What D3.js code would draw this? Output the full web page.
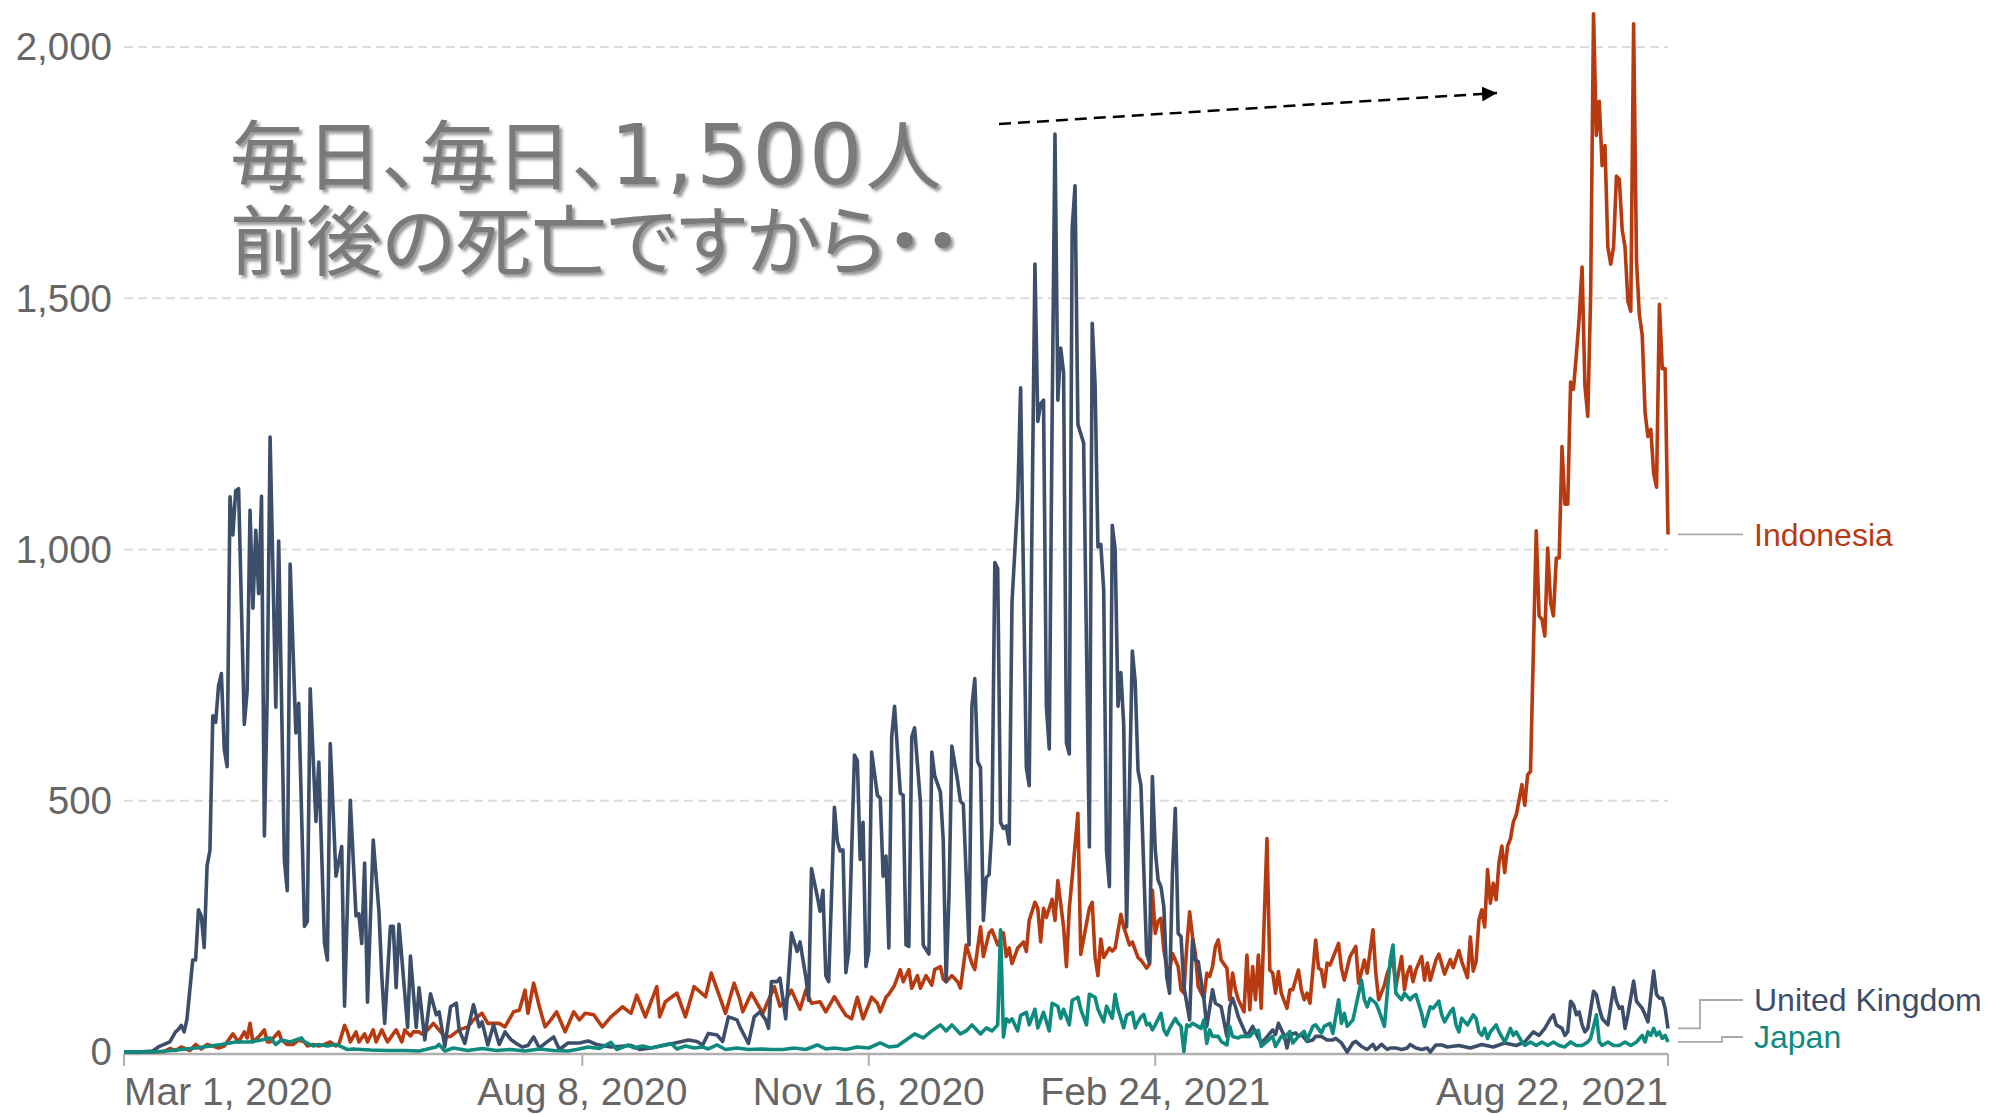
<!DOCTYPE html>
<html>
<head>
<meta charset="utf-8">
<script src="https://cdn.jsdelivr.net/npm/d3@7"></script>
<style>
  body { margin: 0; background: #ffffff; }
  svg text { font-family: "Liberation Sans", Arial, sans-serif; }
</style>
</head>
<body>
<div id="chart"></div>
<script>
// Daily deaths, as [days since Mar 1, 2020, deaths]
const ukDeaths = [[0,0],[5,0],[10,2],[12,10],[14,15],[16,20],[18,40],[19,45],[20,53],[21,40],[22,66],[24,183],[25,183],[26,283],[27,270],[28,208],[29,371],[30,401],[31,669],[32,656],[33,728],[34,753],[35,602],[36,568],[37,1105],[38,1029],[39,1117],[40,1121],[42,652],[43,719],[44,1078],[45,883],[46,1038],[47,912],[48,1106],[49,430],[50,711],[51,1224],[53,686],[54,1017],[56,380],[57,321],[58,971],[60,635],[61,694],[63,250],[64,260],[65,723],[67,459],[68,577],[70,216],[71,183],[72,614],[74,350],[76,409],[77,91],[79,501],[81,271],[82,275],[83,216],[84,376],[85,99],[87,422],[89,280],[90,150],[91,57],[93,250],[94,250],[95,128],[96,254],[99,49],[100,191],[102,49],[103,128],[105,24],[107,116],[109,74],[110,80],[112,11],[114,90],[116,97],[117,44],[119,17],[122,94],[124,50],[125,60],[127,14],[129,54],[131,15],[133,40],[135,25],[137,17],[139,10],[141,13],[143,30],[145,8],[147,17],[150,30],[152,5],[155,18],[159,18],[162,22],[165,15],[170,10],[177,13],[180,5],[184,8],[190,15],[194,20],[197,24],[200,21],[202,14],[204,37],[207,34],[209,21],[211,70],[214,64],[215,50],[218,17],[220,70],[222,80],[224,64],[225,47],[226,140],[228,140],[229,147],[231,66],[233,237],[235,200],[236,219],[238,150],[239,103],[240,365],[242,310],[243,280],[244,322],[245,152],[246,140],[248,487],[249,420],[250,400],[251,402],[252,158],[253,200],[255,591],[256,580],[257,383],[258,457],[259,170],[260,200],[261,597],[263,511],[264,505],[265,350],[266,390],[267,207],[268,627],[269,688],[271,515],[272,511],[273,213],[274,210],[275,627],[276,645],[278,499],[279,213],[281,195],[282,597],[283,550],[285,517],[286,420],[287,140],[288,310],[289,609],[291,540],[292,499],[293,493],[295,213],[296,688],[297,743],[298,578],[299,566],[300,262],[301,347],[302,353],[303,450],[304,974],[305,962],[306,457],[307,445],[308,450],[309,414],[310,895],[312,1102],[313,1322],[315,566],[316,530],[317,1066],[318,1568],[319,1255],[320,1290],[321,1297],[322,688],[323,603],[324,1261],[325,1827],[326,1297],[327,1401],[328,1352],[329,615],[330,593],[331,1639],[332,1724],[333,1249],[335,1212],[337,408],[338,1450],[339,1328],[340,1005],[341,1010],[342,920],[343,400],[344,329],[345,1048],[346,1000],[347,688],[348,755],[349,650],[350,249],[352,798],[353,737],[354,560],[355,531],[357,196],[358,177],[359,548],[360,402],[361,342],[362,329],[363,289],[364,150],[365,117],[366,356],[367,485],[368,236],[369,230],[370,130],[372,64],[373,223],[374,183],[375,180],[377,104],[378,51],[380,124],[381,97],[383,90],[385,31],[386,90],[387,107],[388,90],[389,70],[390,57],[392,31],[394,51],[396,28],[397,18],[399,30],[401,44],[402,35],[403,57],[405,33],[406,8],[407,35],[409,38],[410,31],[411,35],[413,21],[415,24],[416,31],[418,31],[420,24],[422,24],[423,27],[425,18],[427,0],[429,18],[430,21],[432,11],[434,5],[436,15],[437,5],[439,15],[441,5],[442,8],[444,8],[446,5],[448,8],[449,15],[451,8],[453,5],[455,8],[456,0],[458,14],[460,14],[462,10],[466,13],[470,8],[474,15],[478,10],[482,18],[486,13],[489,20],[492,40],[494,33],[496,47],[498,67],[499,74],[500,54],[502,47],[503,33],[504,40],[505,101],[506,94],[507,74],[508,80],[509,54],[510,40],[511,47],[513,121],[514,114],[515,87],[516,67],[517,60],[518,54],[520,128],[521,101],[522,87],[523,90],[524,47],[525,74],[527,141],[528,101],[529,94],[530,87],[531,74],[532,60],[534,161],[535,114],[536,107],[537,107],[538,87],[539,47]];

const indonesiaDeaths = [[0,0],[10,0],[14,1],[16,7],[18,3],[20,10],[23,3],[25,15],[27,6],[29,15],[31,12],[33,8],[35,12],[38,36],[40,20],[42,40],[43,28],[44,57],[45,20],[47,30],[49,44],[50,20],[51,20],[54,40],[55,24],[57,15],[59,15],[61,24],[63,20],[64,12],[66,15],[68,12],[70,15],[72,20],[74,12],[75,15],[77,53],[78,40],[79,20],[81,40],[82,20],[84,36],[85,20],[87,44],[88,20],[90,44],[92,20],[94,36],[95,44],[97,20],[98,44],[100,32],[101,40],[103,40],[104,36],[106,44],[108,57],[110,44],[112,30],[114,31],[117,44],[120,50],[122,64],[125,77],[127,57],[131,57],[133,50],[136,80],[138,83],[140,123],[141,77],[143,137],[145,90],[147,50],[149,64],[151,80],[154,40],[157,80],[159,64],[161,77],[164,74],[167,50],[170,70],[174,90],[177,77],[179,113],[182,70],[186,130],[187,70],[189,100],[193,117],[196,70],[199,130],[203,110],[205,157],[210,77],[213,137],[215,104],[216,80],[219,117],[221,97],[223,77],[227,130],[229,91],[231,103],[233,123],[236,85],[238,123],[240,97],[243,100],[245,80],[248,110],[250,91],[252,73],[254,66],[256,109],[258,66],[261,109],[263,97],[264,80],[266,109],[267,115],[269,133],[271,164],[272,140],[274,164],[275,127],[277,152],[278,127],[280,152],[282,133],[283,164],[285,170],[286,145],[287,140],[289,152],[291,140],[292,127],[294,213],[296,176],[297,164],[299,249],[300,190],[302,237],[303,243],[305,213],[307,237],[308,190],[309,207],[310,176],[312,207],[314,219],[315,200],[316,262],[318,298],[319,286],[320,219],[321,286],[322,268],[324,304],[325,262],[326,341],[328,249],[329,170],[330,286],[331,347],[333,475],[334,194],[335,225],[337,286],[338,298],[339,188],[340,152],[341,225],[342,188],[344,207],[345,201],[346,207],[348,274],[349,249],[351,213],[352,219],[354,188],[355,183],[356,175],[357,167],[358,175],[359,322],[360,236],[361,260],[362,266],[363,203],[364,167],[365,163],[366,196],[368,170],[369,124],[370,117],[371,210],[372,279],[373,230],[374,196],[375,130],[377,107],[378,157],[379,150],[380,170],[381,210],[382,223],[383,183],[385,167],[386,104],[387,157],[388,124],[389,104],[391,80],[392,193],[393,84],[394,170],[395,104],[396,193],[397,87],[399,425],[400,163],[401,157],[402,117],[403,160],[404,117],[406,87],[407,124],[408,124],[410,163],[411,124],[412,104],[413,117],[414,97],[416,223],[417,167],[418,163],[419,130],[420,177],[421,173],[424,216],[425,167],[426,143],[428,190],[430,210],[431,137],[433,183],[434,157],[436,243],[437,157],[438,104],[440,133],[441,157],[443,183],[444,130],[446,190],[447,124],[448,157],[449,170],[450,140],[451,163],[453,190],[454,143],[455,177],[456,143],[458,183],[459,195],[461,155],[462,170],[463,184],[464,168],[466,202],[467,180],[469,148],[470,229],[471,161],[472,180],[473,262],[474,283],[475,249],[476,363],[477,296],[478,336],[479,303],[480,377],[481,410],[482,357],[483,410],[484,424],[485,458],[486,471],[488,532],[489,491],[490,552],[491,558],[493,1037],[494,868],[495,861],[496,828],[497,1003],[498,895],[499,868],[500,983],[501,983],[502,1205],[503,1090],[504,1090],[505,1333],[506,1319],[507,1387],[508,1461],[509,1562],[510,1326],[511,1265],[512,1508],[513,2066],[514,1824],[515,1892],[516,1764],[517,1804],[518,1602],[519,1568],[520,1602],[521,1743],[522,1737],[523,1636],[524,1602],[525,1494],[526,1474],[527,2046],[528,1575],[529,1467],[530,1427],[531,1272],[532,1225],[533,1239],[534,1151],[535,1124],[536,1488],[537,1360],[538,1360],[539,1030]];

const japanDeaths = [[0,0],[10,0],[15,2],[20,5],[25,8],[29,11],[34,15],[39,20],[44,20],[48,24],[51,28],[53,15],[55,24],[58,20],[60,24],[62,28],[63,20],[66,12],[68,15],[71,12],[74,15],[76,10],[78,5],[80,6],[86,4],[92,3],[98,3],[103,2],[109,10],[110,15],[112,2],[115,8],[120,3],[125,7],[130,3],[135,5],[140,2],[145,6],[150,3],[155,2],[158,5],[162,10],[166,7],[170,19],[172,5],[176,14],[178,8],[181,12],[184,8],[187,12],[191,17],[193,6],[196,12],[199,8],[202,10],[204,6],[207,14],[210,5],[214,8],[218,5],[222,6],[226,5],[230,5],[234,8],[238,5],[242,14],[245,6],[248,8],[252,5],[256,10],[260,8],[264,18],[267,10],[270,12],[273,24],[276,36],[279,28],[282,42],[285,54],[287,42],[289,54],[292,36],[294,42],[296,54],[299,36],[301,48],[303,42],[305,54],[306,243],[307,30],[308,66],[309,60],[310,66],[312,42],[313,73],[315,79],[316,54],[318,85],[319,48],[321,79],[323,42],[324,97],[326,91],[327,67],[328,85],[330,54],[331,103],[333,109],[334,85],[336,54],[337,115],[339,109],[340,85],[342,60],[343,91],[345,67],[346,115],[347,85],[349,48],[350,73],[352,79],[353,48],[354,60],[355,70],[356,75],[357,54],[358,57],[359,44],[360,54],[362,77],[363,44],[364,34],[365,47],[367,67],[368,57],[369,51],[370,1],[371,54],[372,51],[373,57],[374,54],[376,47],[377,64],[378,17],[379,44],[380,31],[382,31],[383,21],[385,14],[386,51],[387,31],[389,28],[390,31],[392,31],[393,31],[394,38],[396,43],[397,11],[399,21],[401,31],[402,11],[404,31],[405,28],[407,41],[408,18],[410,31],[412,41],[413,24],[415,51],[416,54],[418,38],[419,51],[421,57],[422,37],[424,104],[425,57],[426,77],[427,51],[429,64],[430,90],[432,143],[433,104],[434,90],[435,107],[437,97],[438,84],[440,51],[442,183],[443,213],[444,117],[446,104],[447,117],[449,104],[450,111],[451,114],[453,77],[454,51],[456,90],[457,87],[459,101],[460,74],[461,60],[463,80],[464,87],[465,54],[466,40],[467,67],[469,54],[471,74],[472,67],[473,40],[474,33],[475,47],[476,27],[477,40],[479,54],[480,40],[482,20],[483,33],[484,47],[485,33],[486,40],[488,20],[489,13],[491,20],[493,13],[495,20],[497,13],[499,20],[501,13],[503,10],[505,20],[507,13],[509,13],[511,20],[512,27],[514,74],[515,20],[516,13],[518,20],[520,13],[522,13],[524,20],[526,13],[528,20],[530,33],[531,20],[532,40],[533,33],[534,47],[535,33],[536,40],[537,27],[538,33],[539,20]];

// Series names and colours (drawing order: Indonesia, UK, Japan)
const countries = ["Indonesia", "United Kingdom", "Japan"];
const countryColors = ["#b73a10", "#3c4e69", "#0e8a7e"];

// Axis ticks
const yTicks = [0, 500, 1000, 1500, 2000];
const xTickDays = [0, 160, 260, 360, 539];
const xTickLabels = ["Mar 1, 2020", "Aug 8, 2020", "Nov 16, 2020", "Feb 24, 2021", "Aug 22, 2021"];

// Annotation text
const noteLines = ["毎日、毎日、1,500人", "前後の死亡ですから・・"];

const startDate = Date.UTC(2020, 2, 1);
const toDate = day => new Date(startDate + day * 864e5);

// Chart dimensions
const width = 2000;
const height = 1114;
const plot = { left: 124, right: 1668, top: 47, bottom: 1052 };

const x = d3.scaleUtc()
    .domain([toDate(0), toDate(539)])
    .range([plot.left, plot.right]);

const y = d3.scaleLinear()
    .domain([0, 2000])
    .range([plot.bottom, plot.top]);

const svg = d3.select("#chart")
    .append("svg")
    .attr("width", width)
    .attr("height", height)
    .attr("viewBox", [0, 0, width, height]);

const defs = svg.append("defs");

// Soft shadow for the big annotation
defs.append("filter")
    .attr("id", "noteShadow")
    .attr("x", "-5%").attr("y", "-20%")
    .attr("width", "115%").attr("height", "150%")
    .append("feDropShadow")
    .attr("dx", 3).attr("dy", 3)
    .attr("stdDeviation", 1.6)
    .attr("flood-color", "#333")
    .attr("flood-opacity", 0.5);

defs.append("marker")
    .attr("id", "arrowHead")
    .attr("viewBox", "0 0 10 10")
    .attr("refX", 10).attr("refY", 5)
    .attr("markerUnits", "userSpaceOnUse")
    .attr("markerWidth", 15).attr("markerHeight", 15)
    .attr("orient", "auto")
    .append("path")
    .attr("d", "M0,0 L10,5 L0,10 Z")
    .attr("fill", "#000");

// Horizontal dashed gridlines
svg.append("g")
    .selectAll("line")
    .data(yTicks.filter(d => d > 0))
    .join("line")
    .attr("x1", plot.left)
    .attr("x2", plot.right)
    .attr("y1", d => y(d))
    .attr("y2", d => y(d))
    .attr("stroke", "#dcdcdc")
    .attr("stroke-width", 2)
    .attr("stroke-dasharray", "9,5");

// Y tick labels
svg.append("g")
    .selectAll("text")
    .data(yTicks)
    .join("text")
    .attr("x", 112)
    .attr("y", d => y(d))
    .attr("dy", "0.35em")
    .attr("text-anchor", "end")
    .attr("fill", "#666")
    .attr("font-size", 38.5)
    .text(d3.format(","));

// X axis: baseline, ticks and labels
const xAxis = svg.append("g");
xAxis.append("line")
    .attr("x1", plot.left)
    .attr("x2", plot.right)
    .attr("y1", y(0) + 2)
    .attr("y2", y(0) + 2)
    .attr("stroke", "#b0b0b0")
    .attr("stroke-width", 2.5);

xAxis.selectAll(".tick")
    .data(xTickDays)
    .join("line")
    .attr("class", "tick")
    .attr("x1", d => x(toDate(d)))
    .attr("x2", d => x(toDate(d)))
    .attr("y1", y(0) + 2)
    .attr("y2", y(0) + 14)
    .attr("stroke", "#b0b0b0")
    .attr("stroke-width", 2);

xAxis.selectAll(".tickLabel")
    .data(xTickDays)
    .join("text")
    .attr("class", "tickLabel")
    .attr("x", d => x(toDate(d)))
    .attr("y", 1105)
    .attr("text-anchor", (d, i) => i === 0 ? "start" : (i === xTickDays.length - 1 ? "end" : "middle"))
    .attr("fill", "#666")
    .attr("font-size", 39)
    .text((d, i) => xTickLabels[i]);

// Lines
const line = d3.line()
    .x(d => x(toDate(d[0])))
    .y(d => y(d[1]));

const seriesData = [indonesiaDeaths, ukDeaths, japanDeaths];

svg.append("g")
    .selectAll("path")
    .data(seriesData)
    .join("path")
    .attr("d", line)
    .attr("fill", "none")
    .attr("stroke", (d, i) => countryColors[i])
    .attr("stroke-width", 3.6)
    .attr("stroke-linejoin", "round");

// End labels with elbow leader lines
const endY = seriesData.map(s => y(s[s.length - 1][1]));
const labelY = [endY[0], 1000, 1037];
const elbowX = [1710, 1700, 1722];
const endLabels = svg.append("g");
seriesData.forEach((series, i) => {
    endLabels.append("path")
        .attr("d", `M1678,${endY[i]} H${elbowX[i]} V${labelY[i]} H1743`)
        .attr("fill", "none")
        .attr("stroke", "#a8a8a8")
        .attr("stroke-width", 1.8);
    endLabels.append("text")
        .attr("x", 1754)
        .attr("y", labelY[i])
        .attr("dy", "0.35em")
        .attr("fill", countryColors[i])
        .attr("font-size", 32)
        .text(countries[i]);
});

// Big annotation: one text block, numbers set in a wider Latin face
const note = svg.append("text")
    .attr("filter", "url(#noteShadow)")
    .attr("fill", "#7a7a7a")
    .attr("font-size", 76)
    .style("font-family", "'Noto Sans CJK JP', sans-serif")
    .style("font-feature-settings", "'palt'");

noteLines.forEach((txt, i) => {
    const row = note.append("tspan")
        .attr("x", 230)
        .attr("y", 184 + i * 85);
    txt.split(/([\d,]*\d)/).filter(s => s.length).forEach(part => {
        const isNum = /^[\d,]+$/.test(part);
        row.append("tspan")
            .style("font-family", isNum ? "'DejaVu Sans', sans-serif" : null)
            .attr("font-size", isNum ? 84 : null)
            .attr("letter-spacing", isNum ? 3 : null)
            .text(part);
    });
});

// Dashed arrow pointing to the Indonesian peak
svg.append("line")
    .attr("x1", 999).attr("y1", 124)
    .attr("x2", 1497).attr("y2", 93)
    .attr("stroke", "#000")
    .attr("stroke-width", 2.5)
    .attr("stroke-dasharray", "12,7")
    .attr("marker-end", "url(#arrowHead)");
</script>
</body>
</html>
